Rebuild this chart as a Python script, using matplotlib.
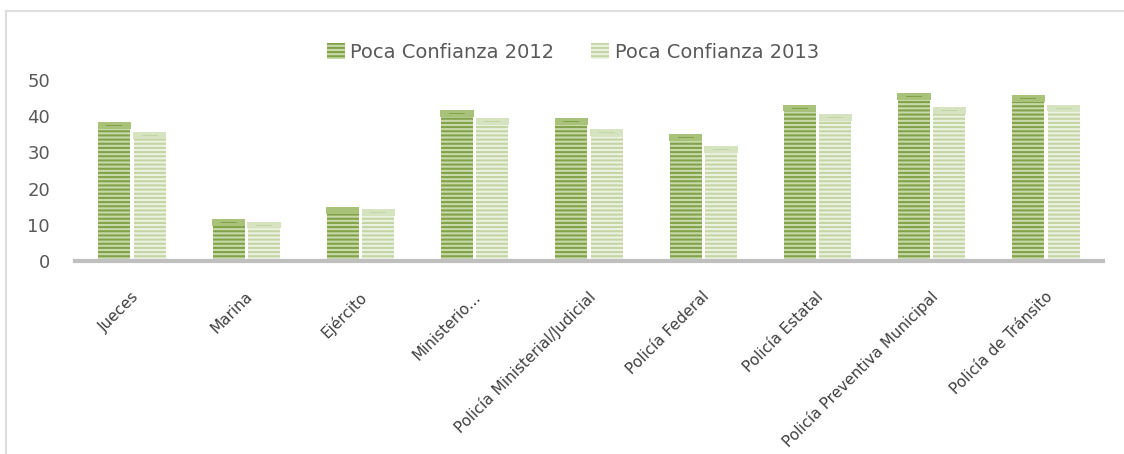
import matplotlib
matplotlib.use("Agg")
import matplotlib.pyplot as plt
import matplotlib.patches as mpatches
import matplotlib.transforms as mtransforms
import numpy as np

categories = ["Jueces", "Marina", "Ejército", "Ministerio...",
              "Policía Ministerial/Judicial", "Policía Federal",
              "Policía Estatal", "Policía Preventiva Municipal",
              "Policía de Tránsito"]
series_names = ["Poca Confianza 2012", "Poca Confianza 2013"]
values_2012 = [38.4, 11.6, 14.8, 41.8, 39.4, 35.0, 43.2, 46.4, 45.9]
values_2013 = [35.6, 10.9, 14.3, 39.4, 36.5, 31.8, 40.5, 42.6, 43.2]
yticks = [0, 10, 20, 30, 40, 50]

plt.rcParams['hatch.linewidth'] = 1.5

W, H = 1124, 454
fig = plt.figure(figsize=(W / 100, H / 100), dpi=100)
ax = fig.add_axes([75 / W, 1 - 261 / H, (1103 - 75) / W, (261 - 80) / H])

x = np.arange(len(categories))
bw = 0.28
off = 0.155
styles = [
    dict(face="#c8d9aa", hatch_col="#82a24a", cap="#a8c27a"),
    dict(face="#ecf2e2", hatch_col="#c3d5a2", cap="#d6e3c0"),
]
handles = []
for i, (vals, st, name) in enumerate(zip([values_2012, values_2013], styles, series_names)):
    pos = x + (-off if i == 0 else off)
    ax.bar(pos, vals, width=bw, facecolor=st["face"], edgecolor=st["hatch_col"],
           hatch="----", linewidth=0, zorder=2)
    capb = np.array(vals) - 1.9
    ax.bar(pos, [1.9] * len(vals), bottom=capb, width=bw * 1.04, facecolor=st["cap"],
           edgecolor=st["cap"], linewidth=0, zorder=3)
    ax.bar(pos, [0.25] * len(vals), bottom=np.array(vals) - 1.1, width=bw * 0.5,
           facecolor=st["hatch_col"], linewidth=0, zorder=4)
    handles.append(mpatches.Patch(facecolor=st["face"], edgecolor=st["hatch_col"],
                                  hatch="----", linewidth=0, label=name))

ax.set_xlim(-0.5, len(categories) - 0.5)
ax.set_ylim(0, 50)
ax.set_yticks(yticks)
ax.set_yticklabels([str(v) for v in yticks])
for s in ["top", "right", "left"]:
    ax.spines[s].set_visible(False)
ax.spines["bottom"].set_color("#bfbfbf")
ax.spines["bottom"].set_linewidth(3)
ax.spines["bottom"].set_zorder(5)
ax.tick_params(axis="y", length=0, pad=18, labelsize=13, labelcolor="#595959")
ax.tick_params(axis="x", length=0, pad=24, labelsize=11, labelcolor="#404040")
ax.set_xticks(x)
ax.set_xticklabels(categories, rotation=45, ha="right", va="center",
                   rotation_mode="anchor")
shift = mtransforms.ScaledTranslation(4 / 100, 0, fig.dpi_scale_trans)
for lab in ax.get_xticklabels():
    lab.set_transform(lab.get_transform() + shift)

fig.legend(handles=handles, loc="center", bbox_to_anchor=(573 / W, 1 - 52 / H),
           ncol=2, frameon=False, fontsize=14, handlelength=0.9, handleheight=0.9,
           handletextpad=0.3, columnspacing=1.9, labelcolor="#595959")

border = mpatches.Rectangle((6.5 / W, -0.1), 1.2, 1 - 10.5 / H + 0.1,
                            transform=fig.transFigure, fill=False,
                            edgecolor="#dedede", linewidth=1.5)
fig.patches.append(border)

fig.savefig("out.png", dpi=100)
